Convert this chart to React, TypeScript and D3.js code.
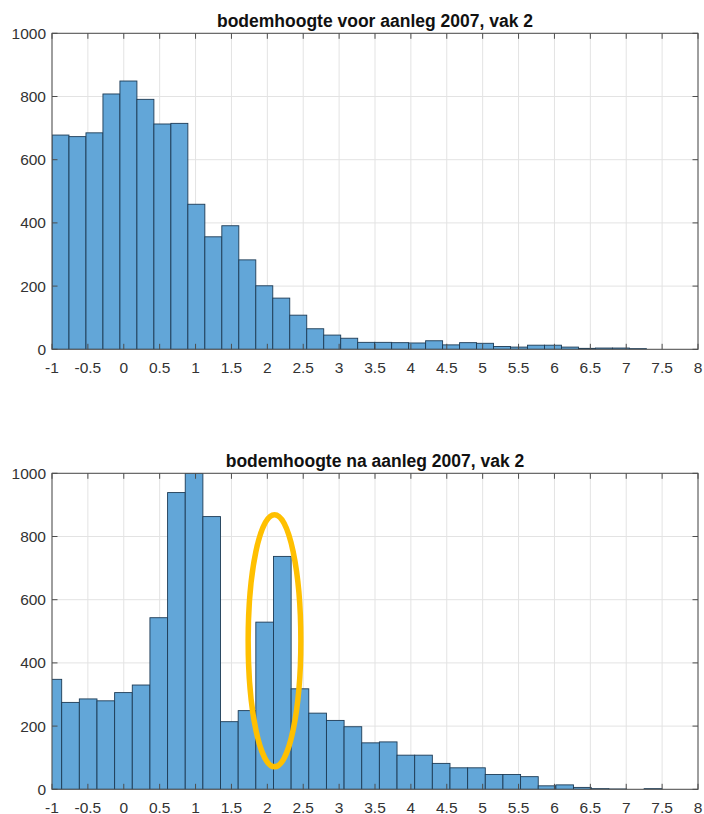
import React from "react";
import * as d3 from "d3";

// ---- data ----
const topTitle = "bodemhoogte voor aanleg 2007, vak 2";
const bottomTitle = "bodemhoogte na aanleg 2007, vak 2";

const topBinStart = -1.0;
const topBinWidth = 0.2366;
const topCounts = [
  678, 673, 685, 808, 849, 791, 713, 715, 459, 356, 391, 283, 201, 162, 108,
  65, 45, 35, 22, 22, 21, 20, 27, 14, 21, 19, 9, 7, 13, 13, 7, 3, 4, 4, 2,
];

const bottomBinStart = -1.111;
const bottomBinWidth = 0.2459;
const bottomCounts = [
  348, 275, 286, 280, 306, 330, 543, 939, 1000, 863, 214, 249, 529, 737, 318,
  241, 218, 198, 147, 150, 108, 108, 82, 68, 68, 47, 47, 40, 11, 14, 6, 2, 1,
  0, 2,
];

const xTicks = [-1, -0.5, 0, 0.5, 1, 1.5, 2, 2.5, 3, 3.5, 4, 4.5, 5, 5.5, 6, 6.5, 7, 7.5, 8];
const yTicks = [0, 200, 400, 600, 800, 1000];

// annotation ellipse (data coords of bottom panel)
const ellipseCenter = { x: 2.1, y: 470 };
const ellipseRadii = { x: 0.367, y: 399 };

const W = 704;
const H = 814;
const FONT = "'Liberation Sans', Arial, Helvetica, sans-serif";
const BAR_FILL = "#62a6d8";
const BAR_STROKE = "#1d3b55";
const GRID = "#e3e3e3";
const AXIS = "#4d4d4d";
const TEXT = "#333333";

type PanelProps = {
  id: string;
  title: string;
  top: number;
  bottom: number;
  binStart: number;
  binWidth: number;
  counts: number[];
  titleY: number;
  labelY: number;
  children?: (x: d3.ScaleLinear<number, number>, y: d3.ScaleLinear<number, number>) => React.ReactNode;
};

const LEFT = 52;
const RIGHT = 698;

function Panel({ id, title, top, bottom, binStart, binWidth, counts, titleY, labelY, children }: PanelProps) {
  const x = d3.scaleLinear().domain([-1, 8]).range([LEFT, RIGHT]);
  const y = d3.scaleLinear().domain([0, 1000]).range([bottom, top]);
  const tickLen = 5.5;
  return (
    <g>
      <defs>
        <clipPath id={id}>
          <rect x={LEFT} y={top} width={RIGHT - LEFT} height={bottom - top} />
        </clipPath>
      </defs>
      <rect x={LEFT} y={top} width={RIGHT - LEFT} height={bottom - top} fill="#fff" />
      {/* grid */}
      {xTicks.map((t) => (
        <line key={"gx" + t} x1={x(t)} x2={x(t)} y1={top} y2={bottom} stroke={GRID} strokeWidth={1} />
      ))}
      {yTicks.map((t) => (
        <line key={"gy" + t} x1={LEFT} x2={RIGHT} y1={y(t)} y2={y(t)} stroke={GRID} strokeWidth={1} />
      ))}
      {/* bars */}
      <g clipPath={`url(#${id})`}>
        {counts.map((c, i) => {
          if (c <= 0) return null;
          const x0 = x(binStart + i * binWidth);
          const x1 = x(binStart + (i + 1) * binWidth);
          return (
            <rect
              key={i}
              x={x0}
              y={y(c)}
              width={x1 - x0}
              height={y(0) - y(c)}
              fill={BAR_FILL}
              stroke={BAR_STROKE}
              strokeWidth={0.9}
            />
          );
        })}
      </g>
      {/* box */}
      <rect x={LEFT} y={top} width={RIGHT - LEFT} height={bottom - top} fill="none" stroke={AXIS} strokeWidth={1} />
      {/* ticks */}
      {xTicks.map((t) => (
        <g key={"tx" + t}>
          <line x1={x(t)} x2={x(t)} y1={bottom} y2={bottom - tickLen} stroke={AXIS} strokeWidth={1} />
          <line x1={x(t)} x2={x(t)} y1={top} y2={top + tickLen} stroke={AXIS} strokeWidth={1} />
          <text x={x(t)} y={labelY} textAnchor="middle" fontFamily={FONT} fontSize={15.5} fill={TEXT}>
            {String(t)}
          </text>
        </g>
      ))}
      {yTicks.map((t) => (
        <g key={"ty" + t}>
          <line x1={LEFT} x2={LEFT + tickLen} y1={y(t)} y2={y(t)} stroke={AXIS} strokeWidth={1} />
          <line x1={RIGHT} x2={RIGHT - tickLen} y1={y(t)} y2={y(t)} stroke={AXIS} strokeWidth={1} />
          <text x={LEFT - 6} y={y(t)} dy="0.35em" textAnchor="end" fontFamily={FONT} fontSize={15.5} fill={TEXT}>
            {String(t)}
          </text>
        </g>
      ))}
      <text x={(LEFT + RIGHT) / 2} y={titleY} textAnchor="middle" fontFamily={FONT} fontSize={17.5} fontWeight="bold" fill="#111">
        {title}
      </text>
      {children ? children(x, y) : null}
    </g>
  );
}

export default function App() {
  return (
    <div style={{ position: "absolute", left: 0, top: 0 }}>
      <svg width={W} height={H} viewBox={`0 0 ${W} ${H}`} style={{ display: "block", background: "#fff" }}>
        <rect width={W} height={H} fill="#fff" />
        <Panel
          id="clipTop"
          title={topTitle}
          top={33.3}
          bottom={349.3}
          binStart={topBinStart}
          binWidth={topBinWidth}
          counts={topCounts}
          titleY={26.5}
          labelY={372.5}
        />
        <Panel
          id="clipBottom"
          title={bottomTitle}
          top={473.3}
          bottom={789.3}
          binStart={bottomBinStart}
          binWidth={bottomBinWidth}
          counts={bottomCounts}
          titleY={467}
          labelY={812.5}
        >
          {(x, y) => {
            const cx = x(ellipseCenter.x);
            const cy = y(ellipseCenter.y);
            const rx = x(ellipseCenter.x + ellipseRadii.x) - cx;
            const ry = cy - y(ellipseCenter.y + ellipseRadii.y);
            return <ellipse cx={cx} cy={cy} rx={rx} ry={ry} fill="none" stroke="#FFC000" strokeWidth={5.5} />;
          }}
        </Panel>
      </svg>
    </div>
  );
}
